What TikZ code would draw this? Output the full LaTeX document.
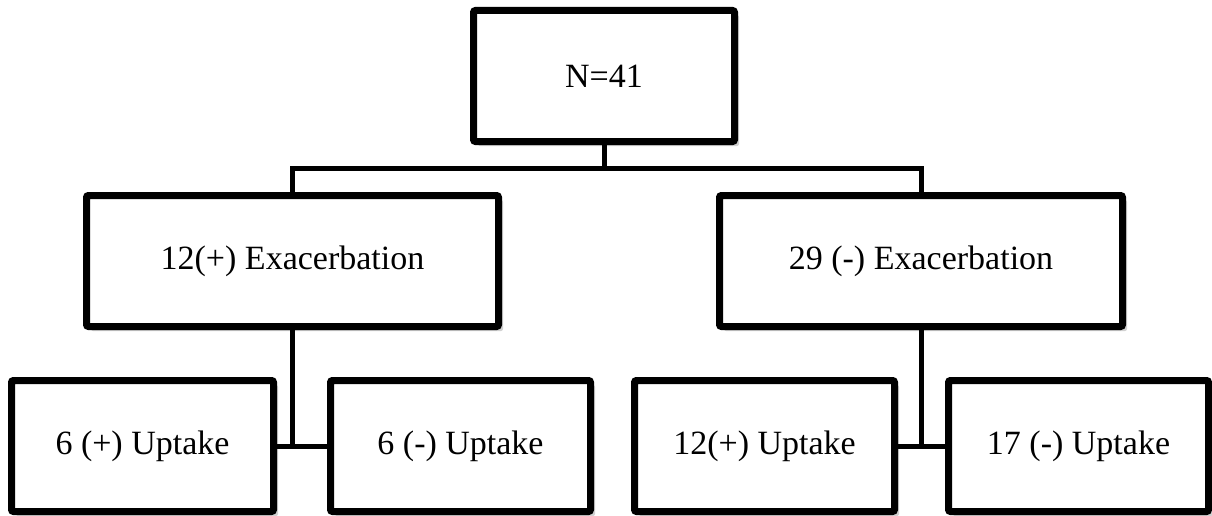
\documentclass[tikz,border=0pt]{standalone}
\usepackage{fontspec}
\setmainfont{Liberation Serif}
\usepackage{tikz}
\usetikzlibrary{calc}
\usetikzlibrary{positioning,shadows}

\tikzset{
  box/.style={draw=black, line width=7pt, rounded corners=2pt, fill=white,
    minimum height=131pt, inner sep=0pt,
    font=\fontsize{34}{40}\selectfont,
    drop shadow={shadow xshift=4.5pt, shadow yshift=-4.5pt, opacity=0.18, fill=black}},
  link/.style={line width=5pt, black}
}

\begin{document}
\begin{tikzpicture}[x=1pt,y=-1pt,node distance=185pt]
    \useasboundingbox (0,0) rectangle (1212,516);

      \node[box, minimum width=261pt] (n) at (604,76) {N=41};
      \node[box, minimum width=412pt, xshift=-311.5pt] (pe) [below of=n] {12(+) Exacerbation};
      \node[box, minimum width=403pt, xshift=317pt] (ne) [below of=n] {29 (-) Exacerbation};

      \node[box, minimum width=262pt, xshift=-150pt] (pepu) [below of=pe] {6 (+) Uptake};
      \node[box, minimum width=260pt, xshift=168pt] (penu) [below of=pe] {6 (-) Uptake};
      \node[box, minimum width=260pt, xshift=-156.5pt] (nepu) [below of=ne] {12(+) Uptake};
      \node[box, minimum width=260pt, xshift=157.5pt] (nenu) [below of=ne] {17 (-) Uptake};

      \draw [link] (n.south) -- ++(0,23) coordinate (split) -| (pe.north);
      \draw [link] (split) -| (ne.north);
      \draw [link] (pe.south) |- (pepu.east);
      \draw [link] (pe.south) |- (penu.west);
      \draw [link] (ne.south) |- (nepu.east);
      \draw [link] (ne.south) |- (nenu.west);
    \end{tikzpicture}
\end{document}
